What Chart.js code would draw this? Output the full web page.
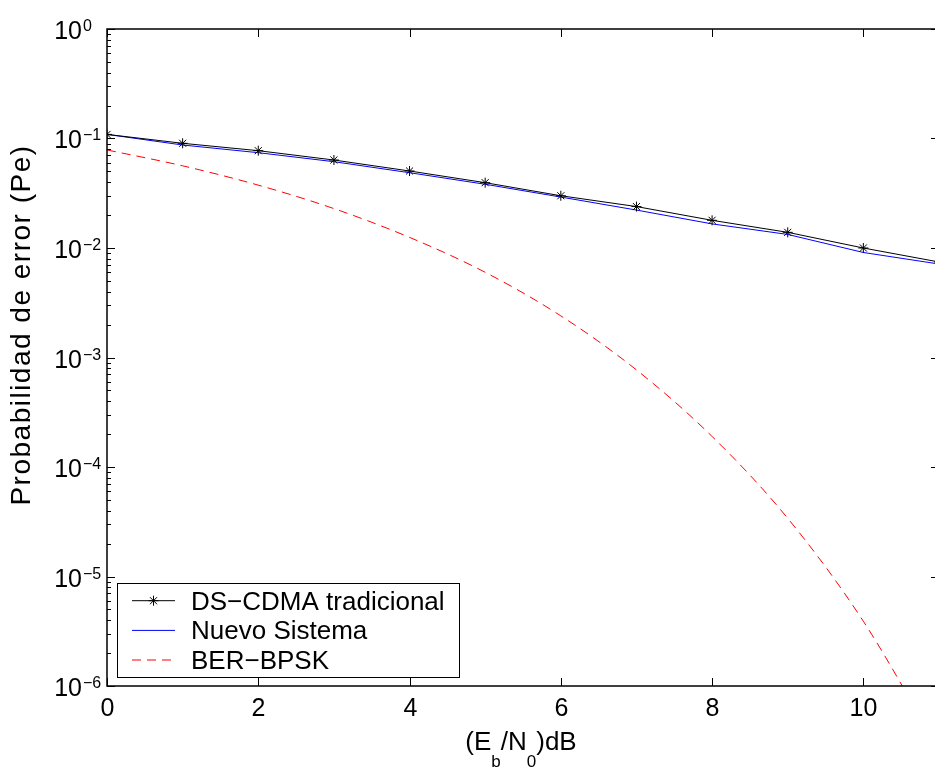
<!DOCTYPE html>
<html>
<head>
<meta charset="utf-8">
<script src="https://cdn.jsdelivr.net/npm/chart.js@4/dist/chart.umd.min.js"></script>
<style>
    html, body { margin: 0; padding: 0; background: #fff; overflow: hidden; }
    canvas { display: block; }
</style>
</head>
<body>
<canvas id="berChart" width="945" height="770"></canvas>
<script>
// Eb/N0 en dB
const ebno = [0, 1, 2, 3, 4, 5, 6, 7, 8, 9, 10, 11];
// valores
const dsCdma = [0.109, 0.0904, 0.0774, 0.0636, 0.0505, 0.0395, 0.0300, 0.0239, 0.0179, 0.0139, 0.0100, 0.00745];
const nuevoSistema = [0.109, 0.0872, 0.0742, 0.0614, 0.0487, 0.0382, 0.0292, 0.0222, 0.0166, 0.0133, 0.0091, 0.00714];
const berBpsk = [0.0786, 0.0563, 0.0375, 0.0229, 0.0125, 0.0060, 0.0024, 0.00077, 0.00019, 0.000034, 0.0000039, 0.00000026];

const xTicks = [0, 2, 4, 6, 8, 10];
const yExponents = [0, -1, -2, -3, -4, -5, -6];
const seriesNames = ['DS\u2212CDMA tradicional', 'Nuevo Sistema', 'BER\u2212BPSK'];

const FONT = '"Liberation Sans", Arial, Helvetica, sans-serif';

function toPoints(ys) {
    return ebno.map((x, i) => ({ x: x, y: ys[i] }));
}

function drawLine(ctx, x1, y1, x2, y2) {
    ctx.beginPath();
    ctx.moveTo(x1, y1);
    ctx.lineTo(x2, y2);
    ctx.stroke();
}

function drawStar(ctx, x, y, r) {
    drawLine(ctx, x - r, y, x + r, y);
    drawLine(ctx, x, y - r, x, y + r);
    const d = r * 0.707;
    drawLine(ctx, x - d, y - d, x + d, y + d);
    drawLine(ctx, x - d, y + d, x + d, y - d);
}

// ejes estilo matlab: marco, marcas, etiquetas, leyenda
const matlabAxes = {
    id: 'matlabAxes',
    afterDraw(chart) {
        const ctx = chart.ctx;
        const a = chart.chartArea;
        const xs = chart.scales.x;
        const ys = chart.scales.y;
        ctx.save();
        ctx.strokeStyle = '#000';
        ctx.fillStyle = '#000';

        // marcas eje x
        ctx.lineWidth = 1;
        ctx.font = '25px ' + FONT;
        ctx.textAlign = 'center';
        ctx.textBaseline = 'alphabetic';
        xTicks.forEach(v => {
            const px = Math.round(xs.getPixelForValue(v)) + 0.5;
            drawLine(ctx, px, a.bottom, px, a.bottom - 8);
            drawLine(ctx, px, a.top, px, a.top + 8);
            ctx.fillText(String(v), px, 716);
        });

        // marcas eje y (log)
        yExponents.forEach(e => {
            const py = Math.round(ys.getPixelForValue(Math.pow(10, e))) + 0.5;
            drawLine(ctx, a.left, py, a.left + 8, py);
            drawLine(ctx, a.right, py, a.right - 8, py);
            if (e > -6) {
                for (let m = 2; m <= 9; m++) {
                    const my = Math.round(ys.getPixelForValue(m * Math.pow(10, e - 1))) + 0.5;
                    drawLine(ctx, a.left, my, a.left + 4, my);
                    drawLine(ctx, a.right, my, a.right - 4, my);
                }
            }
            ctx.textAlign = 'right';
            ctx.font = '25px ' + FONT;
            ctx.fillText('10', 82, py + 9);
            ctx.textAlign = 'left';
            ctx.font = '16px ' + FONT;
            ctx.fillText(e === 0 ? '0' : '\u2212' + (-e), 83, py + 1);
        });

        // marco
        ctx.lineWidth = 1.5;
        ctx.strokeRect(a.left, a.top, a.right - a.left, a.bottom - a.top);

        // etiqueta eje x con subindices
        const parts = [
            { t: '(E', sub: false }, { t: 'b', sub: true }, { t: '/N', sub: false },
            { t: '0', sub: true }, { t: ')dB', sub: false }
        ];
        const mainFont = '26px ' + FONT;
        const subFont = '17px ' + FONT;
        let total = 0;
        parts.forEach(p => {
            ctx.font = p.sub ? subFont : mainFont;
            p.w = ctx.measureText(p.t).width;
            total += p.w;
        });
        let cx = 521 - total / 2;
        ctx.textAlign = 'left';
        parts.forEach(p => {
            ctx.font = p.sub ? subFont : mainFont;
            ctx.fillText(p.t, cx, p.sub ? 767 : 750);
            cx += p.w;
        });

        // etiqueta eje y
        ctx.save();
        ctx.translate(30, 325);
        ctx.rotate(-Math.PI / 2);
        ctx.font = '28px ' + FONT;
        if ('letterSpacing' in ctx) ctx.letterSpacing = '1.5px';
        ctx.textAlign = 'center';
        ctx.fillText('Probabilidad de error (Pe)', 0, 0);
        ctx.restore();

        // leyenda
        ctx.fillStyle = '#fff';
        ctx.fillRect(117, 583, 342, 94);
        ctx.lineWidth = 1;
        ctx.strokeStyle = '#000';
        ctx.strokeRect(117.5, 583.5, 342, 94);
        const rows = [600.7, 630.4, 660];
        const colors = ['#000', '#0000ff', '#ff0000'];
        ctx.font = '26px ' + FONT;
        ctx.textAlign = 'left';
        rows.forEach((ry, i) => {
            ctx.strokeStyle = colors[i];
            ctx.setLineDash(i === 2 ? [9, 6] : []);
            drawLine(ctx, 132, ry, 175, ry);
            ctx.setLineDash([]);
            if (i === 0) drawStar(ctx, 153.5, ry, 5);
            ctx.fillStyle = '#000';
            ctx.fillText(seriesNames[i], 191, ry + 9);
        });

        ctx.restore();
    }
};

const ctx = document.getElementById('berChart').getContext('2d');
const berChart = new Chart(ctx, {
    type: 'line',
    data: {
        datasets: [{
            label: seriesNames[0],
            data: toPoints(dsCdma),
            borderColor: '#000',
            borderWidth: 1,
            pointStyle: 'star',
            pointRadius: 5,
            pointBorderColor: '#000',
            pointBorderWidth: 1,
            tension: 0,
            fill: false
        }, {
            label: seriesNames[1],
            data: toPoints(nuevoSistema),
            borderColor: '#0000ff',
            borderWidth: 1,
            pointRadius: 0,
            tension: 0,
            fill: false
        }, {
            label: seriesNames[2],
            data: toPoints(berBpsk),
            borderColor: '#ff0000',
            borderWidth: 1,
            borderDash: [9, 6],
            pointRadius: 0,
            cubicInterpolationMode: 'monotone',
            fill: false
        }]
    },
    options: {
        responsive: false,
        animation: false,
        devicePixelRatio: 1,
        layout: { padding: { left: 107, top: 29, right: 5, bottom: 84 } },
        plugins: {
            legend: { display: false },
            title: { display: false },
            tooltip: { enabled: false }
        },
        scales: {
            x: { type: 'linear', min: 0, max: 11, display: false },
            y: { type: 'logarithmic', min: 1e-6, max: 1, display: false }
        }
    },
    plugins: [matlabAxes]
});
</script>
</body>
</html>
